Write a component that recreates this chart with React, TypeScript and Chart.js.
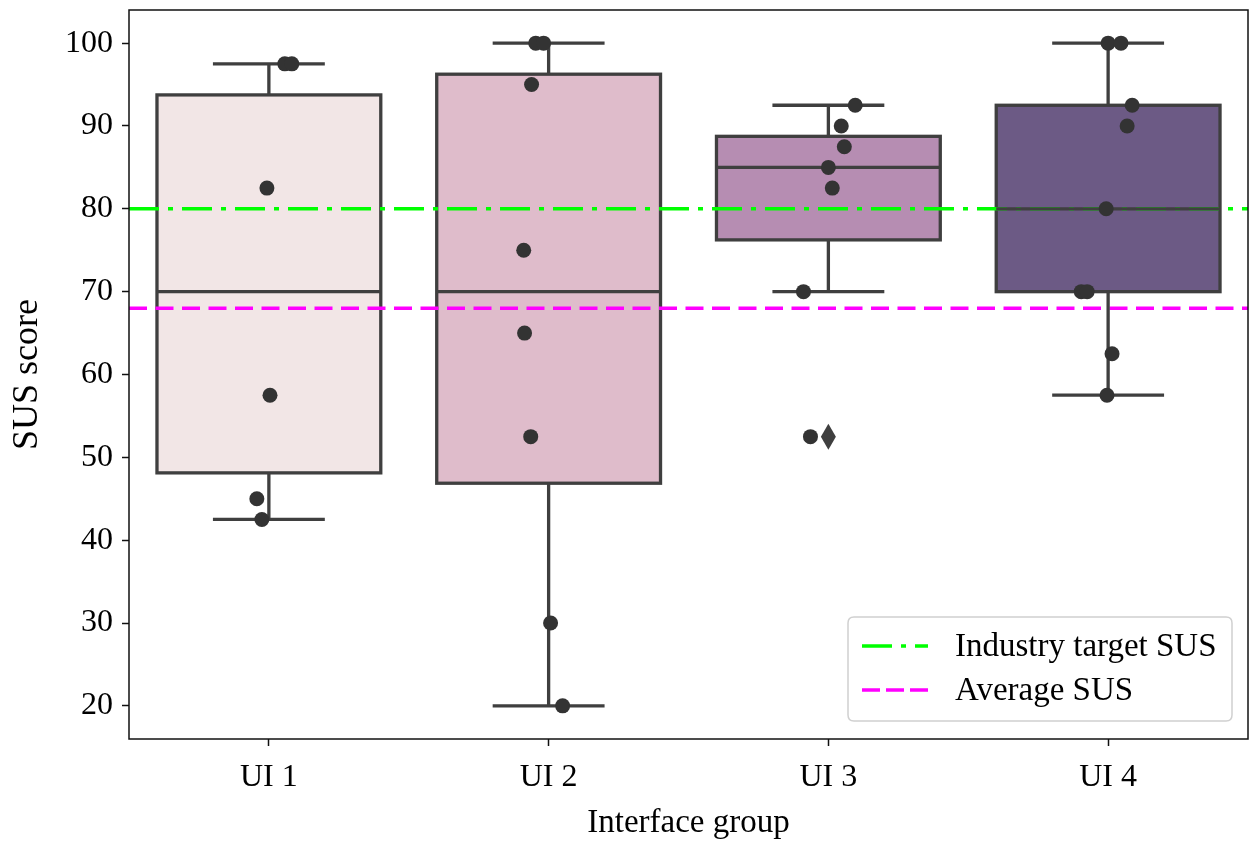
import React, { useEffect, useRef } from 'react';
import { Chart, registerables } from 'chart.js';

Chart.register(...registerables);

// ---------- data ----------
const categories = ['UI 1', 'UI 2', 'UI 3', 'UI 4'];

const ui1Scores = [97.5, 97.5, 82.5, 57.5, 45, 42.5];
const ui1Jitter = [0.057, 0.082, -0.007, 0.004, -0.043, -0.025];

const ui2Scores = [100, 100, 95, 75, 65, 52.5, 30, 20];
const ui2Jitter = [-0.046, -0.018, -0.061, -0.089, -0.086, -0.064, 0.007, 0.05];

const ui3Scores = [92.5, 90, 87.5, 85, 82.5, 70, 52.5];
const ui3Jitter = [0.096, 0.046, 0.057, 0, 0.014, -0.089, -0.064];

const ui4Scores = [100, 100, 92.5, 90, 80, 70, 70, 62.5, 57.5];
const ui4Jitter = [0, 0.046, 0.086, 0.068, -0.007, -0.096, -0.075, 0.014, -0.004];

const industryTargetSus = 80;
const averageSus = 68;

const yTickValues = [20, 30, 40, 50, 60, 70, 80, 90, 100];

const groups = [ui1Scores, ui2Scores, ui3Scores, ui4Scores];
const jitters = [ui1Jitter, ui2Jitter, ui3Jitter, ui4Jitter];
const boxColors = ['#f2e6e6', '#dfbccb', '#b68db2', '#6c5a85'];

const EDGE = '#3f3f3f';
const POINT = '#333333';
const FONT = '"Liberation Serif", "Times New Roman", serif';
const LW = 3.3;

// ---------- box statistics ----------
function quantile(sorted: number[], p: number) {
  const pos = (sorted.length - 1) * p;
  const lo = Math.floor(pos);
  const hi = Math.ceil(pos);
  return sorted[lo] + (sorted[hi] - sorted[lo]) * (pos - lo);
}
function boxStats(values: number[]) {
  const s = [...values].sort((a, b) => a - b);
  const q1 = quantile(s, 0.25);
  const med = quantile(s, 0.5);
  const q3 = quantile(s, 0.75);
  const iqr = q3 - q1;
  const lo = s.find((v) => v >= q1 - 1.5 * iqr) as number;
  const hi = [...s].reverse().find((v) => v <= q3 + 1.5 * iqr) as number;
  const outliers = s.filter((v) => v < lo || v > hi);
  return { q1, med, q3, lo, hi, outliers };
}

const boxPlugin = {
  id: 'boxPlot',
  beforeDatasetsDraw(chart: any) {
    const { ctx, scales } = chart;
    const x = scales.x;
    const y = scales.y;
    groups.forEach((vals, i) => {
      const st = boxStats(vals);
      const x0 = x.getPixelForValue(i - 0.4);
      const x1 = x.getPixelForValue(i + 0.4);
      const yq1 = y.getPixelForValue(st.q1);
      const yq3 = y.getPixelForValue(st.q3);
      ctx.save();
      ctx.fillStyle = boxColors[i];
      ctx.fillRect(x0, yq3, x1 - x0, yq1 - yq3);
      ctx.strokeStyle = EDGE;
      ctx.lineWidth = LW;
      ctx.strokeRect(x0, yq3, x1 - x0, yq1 - yq3);
      ctx.restore();
    });
  },
  afterDatasetDraw(chart: any, args: any) {
    if (args.index !== 1) return;
    const { ctx, scales } = chart;
    const x = scales.x;
    const y = scales.y;
    groups.forEach((vals, i) => {
      const st = boxStats(vals);
      const x0 = x.getPixelForValue(i - 0.4);
      const x1 = x.getPixelForValue(i + 0.4);
      const xc = x.getPixelForValue(i);
      const c0 = x.getPixelForValue(i - 0.2);
      const c1 = x.getPixelForValue(i + 0.2);
      const yq1 = y.getPixelForValue(st.q1);
      const yq3 = y.getPixelForValue(st.q3);
      const ym = y.getPixelForValue(st.med);
      const ylo = y.getPixelForValue(st.lo);
      const yhi = y.getPixelForValue(st.hi);
      ctx.save();
      ctx.strokeStyle = EDGE;
      ctx.lineWidth = LW;
      ctx.lineCap = 'butt';
      ctx.beginPath();
      ctx.moveTo(x0, ym);
      ctx.lineTo(x1, ym);
      ctx.moveTo(xc, yq3);
      ctx.lineTo(xc, yhi);
      ctx.moveTo(xc, yq1);
      ctx.lineTo(xc, ylo);
      ctx.moveTo(c0, yhi);
      ctx.lineTo(c1, yhi);
      ctx.moveTo(c0, ylo);
      ctx.lineTo(c1, ylo);
      ctx.stroke();
      ctx.fillStyle = EDGE;
      st.outliers.forEach((v) => {
        const py = y.getPixelForValue(v);
        ctx.beginPath();
        ctx.moveTo(xc, py - 13);
        ctx.lineTo(xc + 7.5, py);
        ctx.lineTo(xc, py + 13);
        ctx.lineTo(xc - 7.5, py);
        ctx.closePath();
        ctx.fill();
      });
      ctx.restore();
    });
  },
  afterDraw(chart: any) {
    const { ctx, chartArea } = chart;
    const { left, right, top, bottom } = chartArea;
    ctx.save();
    ctx.strokeStyle = '#111111';
    ctx.lineWidth = 1.5;
    ctx.strokeRect(left, top, right - left, bottom - top);

    const refSets = chart.data.datasets.filter((d: any) => d.isRef);
    const bw = 384;
    const bh = 104;
    const bx = right - 16 - bw;
    const by = bottom - 18 - bh;
    const r = 6;
    ctx.beginPath();
    ctx.moveTo(bx + r, by);
    ctx.lineTo(bx + bw - r, by);
    ctx.quadraticCurveTo(bx + bw, by, bx + bw, by + r);
    ctx.lineTo(bx + bw, by + bh - r);
    ctx.quadraticCurveTo(bx + bw, by + bh, bx + bw - r, by + bh);
    ctx.lineTo(bx + r, by + bh);
    ctx.quadraticCurveTo(bx, by + bh, bx, by + bh - r);
    ctx.lineTo(bx, by + r);
    ctx.quadraticCurveTo(bx, by, bx + r, by);
    ctx.closePath();
    ctx.fillStyle = 'rgba(255,255,255,0.8)';
    ctx.fill();
    ctx.strokeStyle = '#d0d0d0';
    ctx.lineWidth = 1.5;
    ctx.stroke();

    refSets.forEach((d: any, k: number) => {
      const ly = by + 29 + k * 44;
      ctx.strokeStyle = d.borderColor;
      ctx.lineWidth = d.borderWidth;
      ctx.setLineDash(d.legendDash);
      ctx.beginPath();
      ctx.moveTo(bx + 14, ly);
      ctx.lineTo(bx + 80, ly);
      ctx.stroke();
      ctx.setLineDash([]);
      ctx.fillStyle = '#000';
      ctx.font = `33px ${FONT}`;
      ctx.textBaseline = 'middle';
      ctx.textAlign = 'left';
      ctx.fillText(d.label, bx + 107, ly + 1);
    });
    ctx.restore();
  },
};

function zeroPadding(s: any) {
  s.paddingTop = 0;
  s.paddingBottom = 0;
  s.paddingLeft = 0;
  s.paddingRight = 0;
}

export default function App() {
  const canvasRef = useRef<HTMLCanvasElement | null>(null);

  useEffect(() => {
    document.body.style.margin = '0';
    const canvas = canvasRef.current;
    if (!canvas) return;

    const pointSets = groups.map((vals, i) => ({
      label: categories[i],
      data: vals.map((v, k) => ({ x: i + jitters[i][k], y: v })),
      backgroundColor: POINT,
      borderWidth: 0,
      pointRadius: 7.5,
      order: 1,
      showLine: false,
    }));

    const chart = new Chart(canvas, {
      type: 'scatter',
      data: {
        datasets: [
          {
            label: 'Industry target SUS',
            isRef: true,
            data: [
              { x: -0.5, y: industryTargetSus },
              { x: 3.5, y: industryTargetSus },
            ],
            showLine: true,
            borderColor: '#00ff00',
            borderWidth: 3.5,
            borderDash: [30, 9, 5, 9],
            legendDash: [30, 9, 5, 9],
            pointRadius: 0,
            order: 3,
          } as any,
          {
            label: 'Average SUS',
            isRef: true,
            data: [
              { x: -0.5, y: averageSus },
              { x: 3.5, y: averageSus },
            ],
            showLine: true,
            borderColor: '#ff00ff',
            borderWidth: 3.5,
            borderDash: [18, 8.5],
            legendDash: [18, 6],
            pointRadius: 0,
            order: 2,
          } as any,
          ...pointSets,
        ],
      },
      options: {
        responsive: false,
        animation: false,
        devicePixelRatio: 1,
        layout: { autoPadding: false, padding: { top: 10, right: 2, left: 0, bottom: 0 } },
        plugins: {
          legend: { display: false },
          tooltip: { enabled: false },
        },
        scales: {
          x: {
            type: 'linear',
            min: -0.5,
            max: 3.5,
            afterBuildTicks: (s: any) => {
              s.ticks = categories.map((_, i) => ({ value: i }));
            },
            afterFit: (s: any) => {
              s.height = 102;
              zeroPadding(s);
            },
            ticks: {
              callback: (v: any) => categories[Math.round(Number(v))],
              font: { family: FONT, size: 32 },
              color: '#000',
              padding: 12,
              maxRotation: 0,
              autoSkip: false,
            },
            grid: {
              drawOnChartArea: false,
              drawTicks: true,
              tickLength: 7,
              tickWidth: 1.5,
              tickColor: '#111111',
            },
            border: { display: false },
            title: {
              display: true,
              text: 'Interface group',
              font: { family: FONT, size: 33, lineHeight: 1.1 },
              color: '#000',
              padding: { top: 0, bottom: 0 },
            },
          },
          y: {
            type: 'linear',
            min: 16,
            max: 104,
            afterBuildTicks: (s: any) => {
              s.ticks = yTickValues.map((v) => ({ value: v }));
            },
            afterFit: (s: any) => {
              s.width = 129;
              zeroPadding(s);
            },
            ticks: {
              font: { family: FONT, size: 32 },
              color: '#000',
              padding: 9,
            },
            grid: {
              drawOnChartArea: false,
              drawTicks: true,
              tickLength: 7,
              tickWidth: 1.5,
              tickColor: '#111111',
            },
            border: { display: false },
            title: {
              display: true,
              text: 'SUS score',
              font: { family: FONT, size: 36 },
              color: '#000',
              padding: { top: 6, bottom: 0 },
            },
          },
        },
      } as any,
      plugins: [boxPlugin],
    });

    return () => chart.destroy();
  }, []);

  return (
    <div style={{ width: 1250, height: 841 }}>
      <canvas ref={canvasRef} width={1250} height={841} style={{ display: 'block' }} />
    </div>
  );
}
